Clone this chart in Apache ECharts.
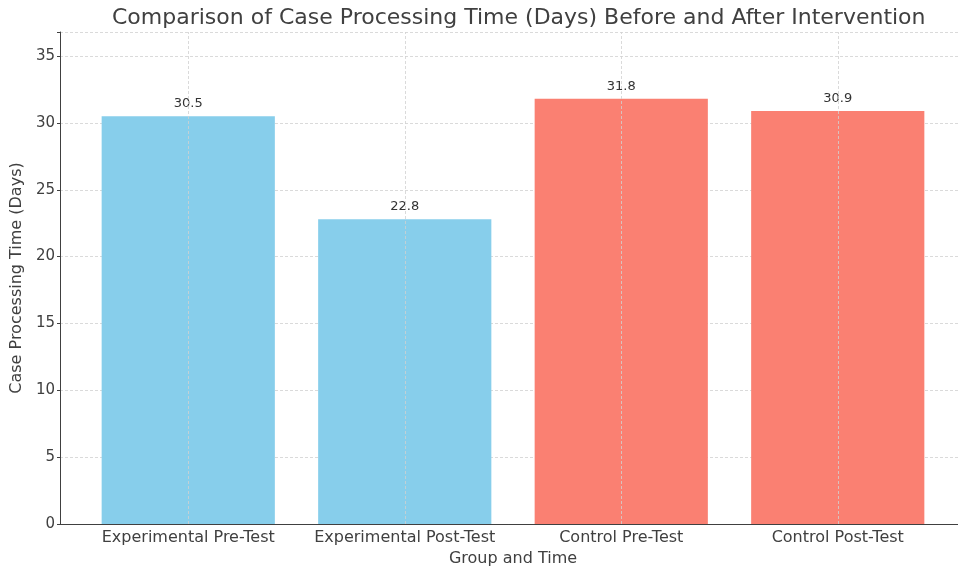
<!DOCTYPE html>
<html>
<head>
<meta charset="utf-8">
<script src="https://cdn.jsdelivr.net/npm/echarts@6/dist/echarts.min.js"></script>
<style>
  html, body { margin: 0; padding: 0; background: #fff; }
  #chart { width: 958px; height: 569px; }
</style>
</head>
<body>
<div id="chart"></div>
<script>
// data
var categories = ['Experimental Pre-Test', 'Experimental Post-Test', 'Control Pre-Test', 'Control Post-Test'];
var days = [30.5, 22.8, 31.8, 30.9];
var barColors = ['#87CEEB', '#87CEEB', '#FA8072', '#FA8072'];
var yMax = 36.8;

var chart = echarts.init(document.getElementById('chart'));

var gridLine = { color: '#d0d0d0', type: [3, 2], width: 0.8 };
var axisGray = '#404040';

var option = {
  backgroundColor: '#fff',
  animation: false,
  textStyle: { fontFamily: 'DejaVu Sans' },
  title: {
    text: 'Comparison of Case Processing Time (Days) Before and After Intervention',
    left: 107,
    top: 2,
    textStyle: { fontSize: 22, fontWeight: 'normal', color: axisGray, fontFamily: 'DejaVu Sans' }
  },
  // grid 0: full frame (spines, y ticks, horizontal grid), grid 1: bars
  grid: [
    { left: 60, right: 0, top: 32, bottom: 45, outerBoundsMode: 'none', containLabel: false },
    { left: 80, right: 12, top: 32, bottom: 45, outerBoundsMode: 'none', containLabel: false }
  ],
  xAxis: [{
    gridIndex: 0,
    type: 'value',
    min: 0,
    max: 1,
    axisLine: { show: true, onZero: false, lineStyle: { color: axisGray, width: 1 } },
    axisTick: { show: false },
    axisLabel: { show: false },
    splitLine: { show: false }
  }, {
    gridIndex: 1,
    type: 'category',
    data: categories,
    name: 'Group and Time',
    nameLocation: 'middle',
    nameGap: 27,
    nameTextStyle: { fontSize: 16, color: axisGray },
    axisLine: { show: false },
    axisTick: { show: true, alignWithLabel: true, inside: true, length: 4, lineStyle: { color: axisGray } },
    axisLabel: { fontSize: 16, color: axisGray, margin: 6, interval: 0 },
    splitLine: { show: false }
  }],
  yAxis: [{
    gridIndex: 0,
    type: 'value',
    min: 0,
    max: yMax,
    interval: 5,
    name: 'Case Processing Time (Days)',
    nameLocation: 'middle',
    nameGap: 29,
    nameTextStyle: { fontSize: 16, color: axisGray },
    axisLine: { show: true, lineStyle: { color: axisGray, width: 1 } },
    axisTick: { show: true, length: 3, lineStyle: { color: axisGray } },
    axisLabel: {
      fontSize: 15, color: axisGray, margin: 5,
      formatter: function (v) { return v % 5 === 0 ? String(v) : ''; }
    },
    splitLine: { show: true, lineStyle: gridLine }
  }, {
    gridIndex: 1,
    type: 'value',
    min: 0,
    max: yMax,
    interval: 5,
    show: false,
    splitLine: { show: false }
  }],
  series: [{
    type: 'bar',
    xAxisIndex: 1,
    yAxisIndex: 1,
    barWidth: '80%',
    data: days.map(function (v, i) {
      return { value: v, itemStyle: { color: barColors[i] } };
    }),
    label: {
      show: true,
      position: 'top',
      distance: 6,
      fontSize: 13,
      color: '#333',
      formatter: function (p) { return p.value.toFixed(1); }
    },
    markLine: {
      silent: true,
      symbol: 'none',
      label: { show: false },
      lineStyle: gridLine,
      data: categories.map(function (c) { return { xAxis: c }; })
    }
  }]
};

chart.setOption(option);
</script>
</body>
</html>
